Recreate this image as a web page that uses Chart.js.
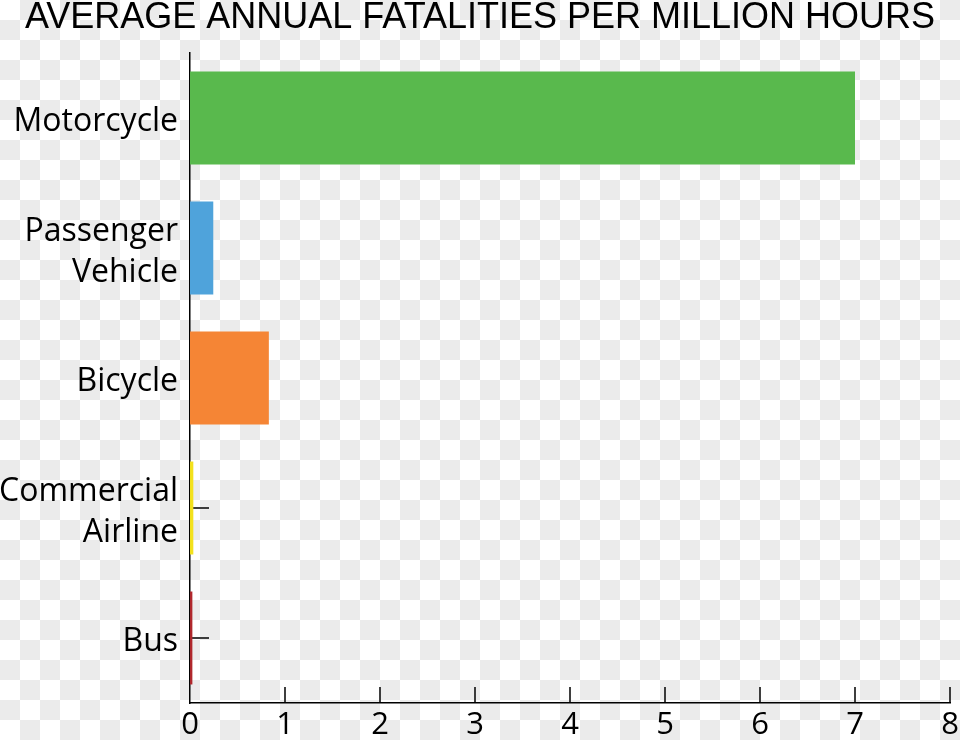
<!DOCTYPE html>
<html>
<head>
<meta charset="utf-8">
<script src="https://cdn.jsdelivr.net/npm/chart.js@4"></script>
<style>
    html, body { margin: 0; padding: 0; }
    body {
        width: 960px;
        height: 740px;
        background: repeating-conic-gradient(#ebebeb 0 25%, #ffffff 0 50%) 0 0 / 40px 40px;
    }
    #wrap { position: relative; width: 960px; height: 740px; }
</style>
</head>
<body>
<div id="wrap"><canvas id="fatalChart"></canvas></div>
<script>
const categories = ['Motorcycle', ['Passenger', 'Vehicle'], 'Bicycle', ['Commercial', 'Airline'], 'Bus'];
const fatalities = [7.0, 0.245, 0.83, 0.035, 0.025];
const barColors = ['#59b94d', '#4fa3db', '#f58535', '#f3e11c', '#b0282d'];
const xTicks = [0, 1, 2, 3, 4, 5, 6, 7, 8];

const FONT = "'Open Sans', 'Liberation Sans', sans-serif";

// small tick marks pointing into the plot area
const innerTicks = {
    id: 'innerTicks',
    beforeDatasetsDraw(chart) {
        const { ctx, chartArea, scales: { x, y } } = chart;
        ctx.save();
        ctx.strokeStyle = '#000';
        ctx.lineWidth = 1.5;
        ctx.beginPath();
        xTicks.forEach(v => {
            if (v === 0) return;
            const px = x.getPixelForValue(v);
            ctx.moveTo(px, chartArea.bottom);
            ctx.lineTo(px, chartArea.bottom - 16);
        });
        categories.forEach((c, i) => {
            const py = y.getPixelForValue(i);
            ctx.moveTo(chartArea.left, py);
            ctx.lineTo(chartArea.left + 19, py);
        });
        ctx.stroke();
        ctx.restore();
    }
};

new Chart(document.getElementById('fatalChart'), {
    type: 'bar',
    data: {
        labels: categories,
        datasets: [{
            data: fatalities,
            backgroundColor: barColors,
            borderWidth: 0,
            categoryPercentage: 1,
            barPercentage: 0.715
        }]
    },
    options: {
        indexAxis: 'y',
        responsive: true,
        maintainAspectRatio: false,
        animation: false,
        layout: { padding: { top: 0, right: 0, left: 0, bottom: 0 } },
        plugins: {
            legend: { display: false },
            tooltip: { enabled: false },
            title: {
                display: true,
                text: 'AVERAGE ANNUAL FATALITIES PER MILLION HOURS',
                color: '#000',
                align: 'center',
                font: { family: "'Liberation Sans', sans-serif", size: 36, weight: 'normal', lineHeight: 1 },
                padding: { top: 0, bottom: 17 }
            }
        },
        scales: {
            x: {
                min: 0,
                max: 8,
                afterBuildTicks: scale => { scale.ticks = xTicks.map(v => ({ value: v })); },
                afterFit: scale => { scale.height = 37; scale.paddingRight = 10; },
                grid: { display: false, drawTicks: false },
                border: { display: true, color: '#000', width: 1.5 },
                ticks: { color: '#000', padding: 4, maxRotation: 0, font: { family: FONT, size: 31 } }
            },
            y: {
                afterFit: scale => { scale.width = 190; },
                grid: { display: false, drawTicks: false },
                border: { display: true, color: '#000', width: 1.5 },
                ticks: { color: '#000', padding: 12, labelOffset: 4, font: { family: FONT, size: 32, lineHeight: 1.28 } }
            }
        }
    },
    plugins: [innerTicks]
});
</script>
</body>
</html>
